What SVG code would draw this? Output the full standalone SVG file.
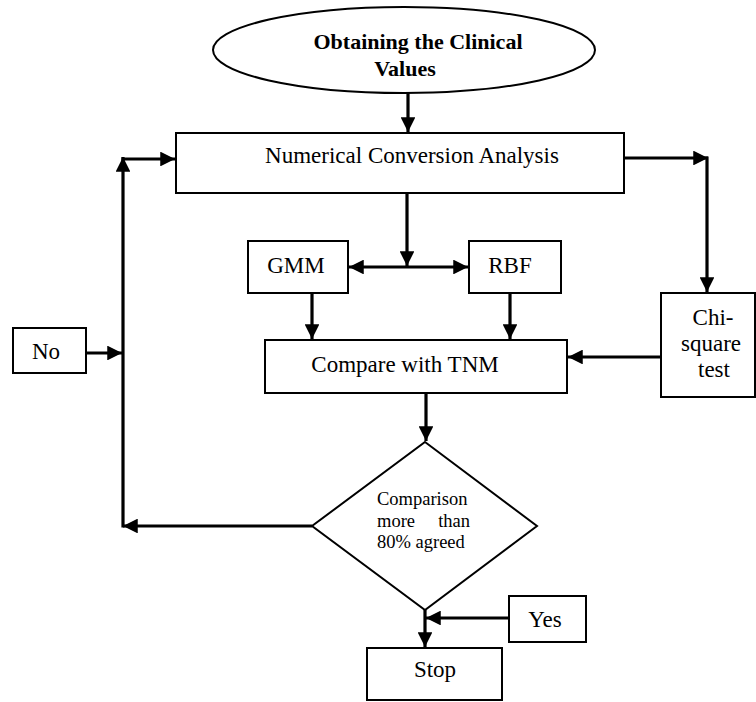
<svg xmlns="http://www.w3.org/2000/svg" width="756" height="702" viewBox="0 0 756 702">
  <defs>
    <style>
      .box { fill: #fff; stroke: #000; stroke-width: 2; }
      .txt { font-family: "Liberation Serif", "Times New Roman", serif; font-size: 23px; fill: #000; }
      .title { font-family: "Liberation Serif", "Times New Roman", serif; font-size: 22px; font-weight: bold; fill: #000; }
      .small { font-family: "Liberation Serif", "Times New Roman", serif; font-size: 18.5px; fill: #000; }
      .conn { fill: none; stroke: #000; stroke-width: 3.2; }
    </style>
    <marker id="arrow" viewBox="0 0 10 10" refX="10" refY="5" markerWidth="5" markerHeight="4.6" markerUnits="strokeWidth" orient="auto-start-reverse">
      <path d="M0,0 L10,5 L0,10 Z" fill="#000"/>
    </marker>
  </defs>
  <rect width="756" height="702" fill="#fff"/>

  <!-- connectors -->
  <g id="connectors">
    <line class="conn" x1="408" y1="93" x2="408" y2="132" marker-end="url(#arrow)"/>
    <line class="conn" x1="407" y1="193" x2="407" y2="266" marker-end="url(#arrow)"/>
    <line class="conn" x1="349" y1="267" x2="468" y2="267" marker-start="url(#arrow)" marker-end="url(#arrow)"/>
    <line class="conn" x1="312" y1="293" x2="312" y2="339" marker-end="url(#arrow)"/>
    <line class="conn" x1="510" y1="293" x2="510" y2="339" marker-end="url(#arrow)"/>
    <line class="conn" x1="624" y1="158" x2="708" y2="158" marker-end="url(#arrow)"/>
    <line class="conn" x1="707" y1="156.5" x2="707" y2="292" marker-end="url(#arrow)"/>
    <line class="conn" x1="661" y1="357" x2="568" y2="357" marker-end="url(#arrow)"/>
    <line class="conn" x1="426" y1="393" x2="426" y2="441" marker-end="url(#arrow)"/>
    <line class="conn" x1="312" y1="526" x2="123" y2="526" marker-end="url(#arrow)"/>
    <line class="conn" x1="123" y1="527.5" x2="123" y2="157" marker-end="url(#arrow)"/>
    <line class="conn" x1="121.5" y1="159" x2="175" y2="159" marker-end="url(#arrow)"/>
    <line class="conn" x1="86" y1="353" x2="122" y2="353" marker-end="url(#arrow)"/>
    <line class="conn" x1="425" y1="610" x2="425" y2="647" marker-end="url(#arrow)"/>
    <line class="conn" x1="509" y1="618" x2="426" y2="618" marker-end="url(#arrow)"/>
  </g>

  <!-- nodes -->
  <g id="start">
    <ellipse class="box" cx="404" cy="50" rx="191" ry="43"/>
    <text class="title" x="418" y="49" text-anchor="middle">Obtaining the Clinical</text>
    <text class="title" x="405" y="76" text-anchor="middle">Values</text>
  </g>
  <g id="conversion">
    <rect class="box" x="176" y="133" width="448" height="60"/>
    <text class="txt" x="412" y="163" text-anchor="middle">Numerical Conversion Analysis</text>
  </g>
  <g id="gmm">
    <rect class="box" x="248" y="241" width="100" height="52"/>
    <text class="txt" x="296" y="273" text-anchor="middle">GMM</text>
  </g>
  <g id="rbf">
    <rect class="box" x="469" y="241" width="92" height="52"/>
    <text class="txt" x="510" y="273" text-anchor="middle">RBF</text>
  </g>
  <g id="chisquare">
    <rect class="box" x="661" y="293" width="94" height="104"/>
    <text class="txt" x="713" y="325" text-anchor="middle">Chi-</text>
    <text class="txt" x="711" y="351" text-anchor="middle">square</text>
    <text class="txt" x="714" y="377" text-anchor="middle">test</text>
  </g>
  <g id="compare">
    <rect class="box" x="265" y="340" width="302" height="53"/>
    <text class="txt" x="405" y="372" text-anchor="middle">Compare with TNM</text>
  </g>
  <g id="decision">
    <polygon class="box" points="425,442 537,526 425,610 312,526"/>
    <text class="small" x="377" y="505">Comparison</text>
    <text class="small" x="377" y="527">more</text>
    <text class="small" x="470" y="527" text-anchor="end">than</text>
    <text class="small" x="377" y="548">80% agreed</text>
  </g>
  <g id="no">
    <rect class="box" x="13" y="328" width="73" height="45"/>
    <text class="txt" x="46" y="359" text-anchor="middle">No</text>
  </g>
  <g id="yes">
    <rect class="box" x="509" y="596" width="77" height="46"/>
    <text class="txt" x="545" y="627" text-anchor="middle">Yes</text>
  </g>
  <g id="stop">
    <rect class="box" x="367" y="648" width="135" height="52"/>
    <text class="txt" x="435" y="677" text-anchor="middle">Stop</text>
  </g>
</svg>
